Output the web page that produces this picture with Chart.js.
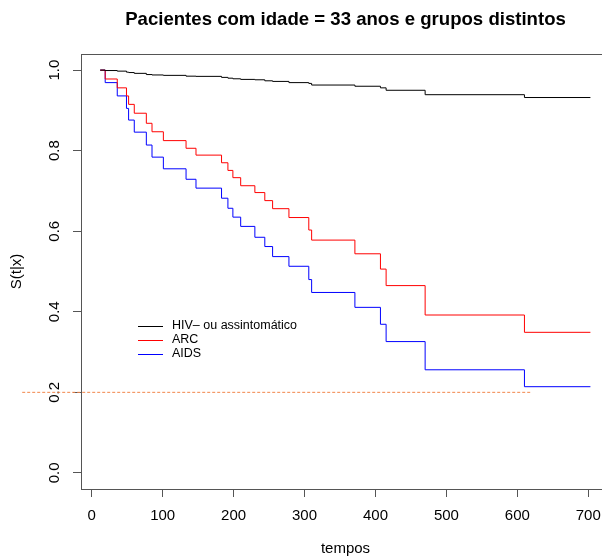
<!DOCTYPE html>
<html>
<head>
<meta charset="utf-8">
<script src="https://cdn.jsdelivr.net/npm/chart.js@4.4.1/dist/chart.umd.min.js"></script>
<style>
  html, body { margin: 0; padding: 0; background: #fff; overflow: hidden; }
</style>
</head>
<body>
<canvas id="surv" width="612" height="559"></canvas>
<script>
// event times and predicted survival S(t|x) for each group
const tempos   = [12, 19, 36, 49, 52, 60, 77, 85, 101, 133, 147, 183, 192, 199, 210, 230, 244, 255, 278, 306, 310, 371, 407, 415, 470, 610, 703];
const survHIV  = [1.000, 0.999, 0.9975, 0.995, 0.994, 0.992, 0.989, 0.988, 0.987, 0.985, 0.9845, 0.982, 0.980, 0.9785, 0.977, 0.976, 0.9735, 0.972, 0.969, 0.967, 0.963, 0.960, 0.956, 0.950, 0.939, 0.932, 0.932];
const survARC  = [1.000, 0.978, 0.956, 0.936, 0.915, 0.893, 0.868, 0.847, 0.825, 0.806, 0.789, 0.770, 0.751, 0.733, 0.713, 0.696, 0.676, 0.656, 0.634, 0.603, 0.578, 0.544, 0.506, 0.465, 0.392, 0.349, 0.349];
const survAIDS = [1.000, 0.969, 0.936, 0.905, 0.876, 0.846, 0.814, 0.784, 0.755, 0.729, 0.707, 0.682, 0.657, 0.635, 0.612, 0.585, 0.562, 0.537, 0.513, 0.480, 0.448, 0.411, 0.369, 0.326, 0.256, 0.214, 0.214];

const grupos = ["HIV\u2013 ou assintomático", "ARC", "AIDS"];
const cores  = ["#000000", "#ff0000", "#0000ff"];

// horizontal reference at S = 0.2
const refLineX = [-98, 620];
const refLineY = 0.2;

const xTicks = [0, 100, 200, 300, 400, 500, 600, 700];
const yTicks = [0.0, 0.2, 0.4, 0.6, 0.8, 1.0];

const FONT = "'Liberation Sans', Arial, Helvetica, sans-serif";
const series = [survHIV, survARC, survAIDS];

const datasets = series.map((s, i) => ({
  label: grupos[i],
  data: tempos.map((t, k) => ({ x: t, y: s[k] })),
  borderColor: cores[i],
  borderWidth: 1,
  stepped: true,
  pointRadius: 0,
  fill: false
}));
datasets.push({
  label: "ref",
  data: refLineX.map(x => ({ x: x, y: refLineY })),
  borderColor: "#f2864a",
  borderWidth: 1,
  borderDash: [3, 2],
  pointRadius: 0,
  clip: false
});

// box round the plot region
const boxPlugin = {
  id: "box",
  afterDraw(chart) {
    const a = chart.chartArea, ctx = chart.ctx;
    ctx.save();
    ctx.strokeStyle = "#555";
    ctx.lineWidth = 1;
    ctx.strokeRect(Math.round(a.left) + 0.5, Math.round(a.top) + 0.5,
                   Math.round(a.right - a.left), Math.round(a.bottom - a.top));
    ctx.restore();
  }
};

// keep the title centred over the plot region
const titleCenter = {
  id: "titleCenter",
  afterLayout(chart) {
    if (chart.titleBlock) {
      chart.titleBlock.left = chart.chartArea.left;
      chart.titleBlock.right = chart.chartArea.right;
    }
  }
};

// legend without box, inside the plot
const legendPlugin = {
  id: "innerLegend",
  afterDatasetsDraw(chart) {
    const ctx = chart.ctx;
    ctx.save();
    ctx.font = "12.5px " + FONT;
    ctx.textBaseline = "middle";
    ctx.fillStyle = "#000";
    grupos.forEach((g, i) => {
      const y = 326 + i * 14;
      ctx.strokeStyle = cores[i];
      ctx.lineWidth = 1;
      ctx.beginPath();
      ctx.moveTo(138, y + 0.5);
      ctx.lineTo(163, y + 0.5);
      ctx.stroke();
      ctx.fillText(g, 172, y);
    });
    ctx.restore();
  }
};

new Chart(document.getElementById("surv"), {
  type: "line",
  data: { datasets },
  plugins: [boxPlugin, titleCenter, legendPlugin],
  options: {
    responsive: false,
    animation: false,
    layout: { padding: { left: 0, right: 2, top: 0, bottom: 0 } },
    plugins: {
      legend: { display: false },
      tooltip: { enabled: false },
      title: {
        display: true,
        text: "Pacientes com idade = 33 anos e grupos distintos",
        color: "#000",
        font: { family: FONT, size: 18.6, weight: "bold" },
        padding: { top: 8.6, bottom: 23.1 }
      }
    },
    scales: {
      x: {
        type: "linear",
        min: -15.1,
        max: 730.6,
        afterBuildTicks: s => { s.ticks = xTicks.map(v => ({ value: v })); },
        afterFit: s => { s.height = 70; },
        grid: { display: true, drawOnChartArea: false, drawTicks: true, tickLength: 8, color: "#555" },
        border: { display: false },
        ticks: { color: "#000", font: { family: FONT, size: 15 }, padding: 10, maxRotation: 0 },
        title: { display: true, text: "tempos", color: "#000", font: { family: FONT, size: 15 }, padding: { top: 0, bottom: 1 } }
      },
      y: {
        type: "linear",
        min: -0.04,
        max: 1.04,
        afterBuildTicks: s => { s.ticks = yTicks.map(v => ({ value: v })); },
        afterFit: s => { s.width = 81; },
        grid: { display: true, drawOnChartArea: false, drawTicks: true, tickLength: 8, color: "#555" },
        border: { display: false },
        ticks: {
          color: "#000",
          font: { family: FONT, size: 15 },
          minRotation: 90, maxRotation: 90,
          crossAlign: "center",
          padding: 7.6,
          callback: v => v.toFixed(1)
        },
        title: { display: true, text: "S(t|x)", color: "#000", font: { family: FONT, size: 15 }, padding: { top: 8.3, bottom: 0 } }
      }
    }
  }
});
</script>
</body>
</html>
